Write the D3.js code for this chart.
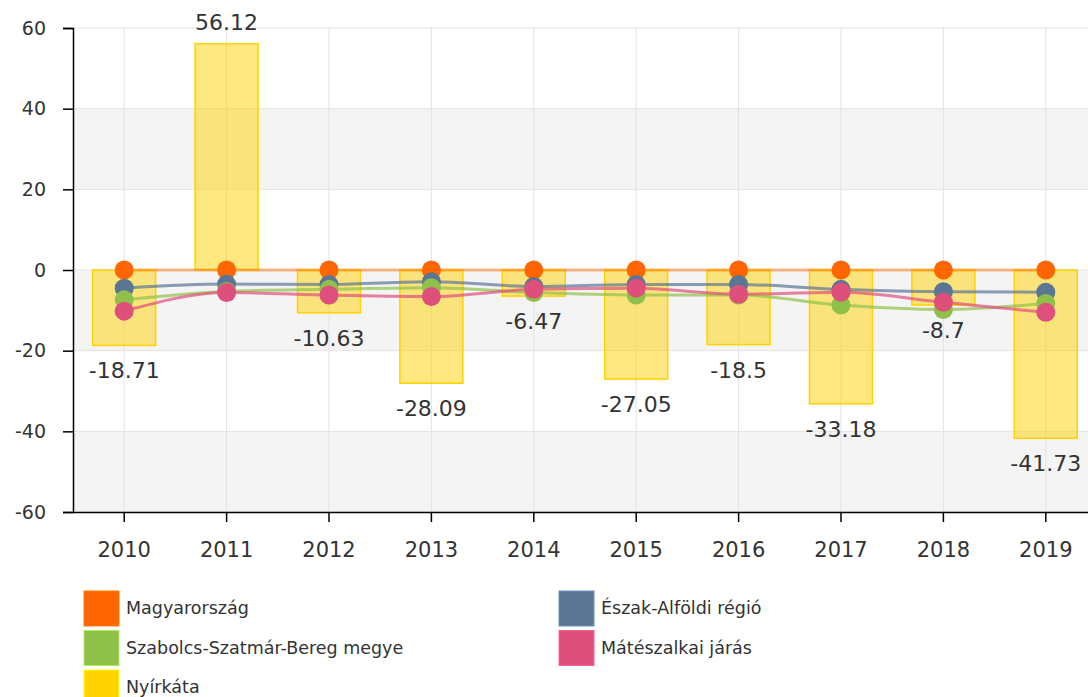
<!DOCTYPE html>
<html>
<head>
<meta charset="utf-8">
<script src="https://cdn.jsdelivr.net/npm/d3@7"></script>
<style>
  body { margin: 0; background: #fff; overflow: hidden; }
  svg { display: block; font-family: "DejaVu Sans", Verdana, sans-serif; }
</style>
</head>
<body>
<div id="chart"></div>
<script>
'use strict';

var years = ["2010","2011","2012","2013","2014","2015","2016","2017","2018","2019"];
var yTicks = [-60,-40,-20,0,20,40,60];

// Nyírkáta (bars)
var nyirkata = [-18.71, 56.12, -10.63, -28.09, -6.47, -27.05, -18.5, -33.18, -8.7, -41.73];

// line series
var magyarorszag = [0,0,0,0,0,0,0,0,0,0];
var eszakAlfoldi = [-4.5,-3.5,-3.6,-2.9,-4.1,-3.6,-3.6,-4.8,-5.4,-5.5];
var szabolcs     = [-7.4,-5.3,-4.8,-4.4,-5.6,-6.2,-6.2,-8.7,-9.8,-8.3];
var mateszalka   = [-10.2,-5.6,-6.2,-6.6,-4.8,-4.5,-6.0,-5.5,-8.0,-10.5];

var seriesNames = ["Magyarország","Észak-Alföldi régió","Szabolcs-Szatmár-Bereg megye","Mátészalkai járás","Nyírkáta"];
var seriesColors = ["#ff6600","#5b7595","#8fc04a","#df4f7b","#ffd200"];

var width = 1088, height = 697;
var svg = d3.select("#chart").append("svg")
    .attr("width", width)
    .attr("height", height);

var x = d3.scaleBand()
    .domain(years)
    .range([73, 73 + 1024]);

var y = d3.scaleLinear()
    .domain([-60, 60])
    .range([512, 28]);

// alternating bands
var bands = [[-60,-40],[-20,0],[20,40]];
svg.append("g").selectAll("rect")
  .data(bands)
  .join("rect")
    .attr("x", 73)
    .attr("width", 1024)
    .attr("y", d => y(d[1]))
    .attr("height", d => y(d[0]) - y(d[1]))
    .attr("fill", "#f4f4f4");

// grid
var grid = svg.append("g").attr("stroke", "#e3e3e3").attr("stroke-width", 1);
grid.selectAll("line.h")
  .data(yTicks)
  .join("line")
    .attr("class","h")
    .attr("x1", 73).attr("x2", 1097)
    .attr("y1", d => y(d)).attr("y2", d => y(d));
grid.selectAll("line.v")
  .data(years)
  .join("line")
    .attr("class","v")
    .attr("x1", d => x(d) + x.bandwidth()/2).attr("x2", d => x(d) + x.bandwidth()/2)
    .attr("y1", y(60)).attr("y2", y(-60));

// bars
var barW = 63;
svg.append("g").selectAll("rect")
  .data(nyirkata)
  .join("rect")
    .attr("x", (d,i) => x(years[i]) + x.bandwidth()/2 - barW/2)
    .attr("width", barW)
    .attr("y", d => y(Math.max(0, d)))
    .attr("height", d => Math.abs(y(d) - y(0)))
    .attr("fill", "#ffd200")
    .attr("fill-opacity", 0.5)
    .attr("stroke", "#ffd200")
    .attr("stroke-width", 1.5);

// bar labels
svg.append("g").selectAll("text")
  .data(nyirkata)
  .join("text")
    .attr("x", (d,i) => x(years[i]) + x.bandwidth()/2)
    .attr("y", d => d < 0 ? y(d) + 33 : y(d) - 14)
    .attr("text-anchor", "middle")
    .attr("fill", "#333")
    .style("font-size", "22px")
    .text(d => d);

// lines
var lineSeries = [magyarorszag, eszakAlfoldi, szabolcs, mateszalka];
var line = d3.line()
    .x((d,i) => x(years[i]) + x.bandwidth()/2)
    .y(d => y(d))
    .curve(d3.curveMonotoneX);

svg.append("g").selectAll("path")
  .data(lineSeries)
  .join("path")
    .attr("d", d => line(d))
    .attr("fill", "none")
    .attr("stroke", (d,i) => seriesColors[i])
    .attr("stroke-opacity", (d,i) => i === 0 ? 0.45 : 0.7)
    .attr("stroke-width", 3);

var dots = svg.append("g");
lineSeries.forEach((s, k) => {
  dots.append("g").selectAll("circle")
    .data(s)
    .join("circle")
      .attr("cx", (d,i) => x(years[i]) + x.bandwidth()/2)
      .attr("cy", d => y(d))
      .attr("r", 9.5)
      .attr("fill", seriesColors[k]);
});

// axes (plain hyphen for negatives, like the original)
var yAxis = svg.append("g")
    .attr("transform", "translate(73,0)")
    .call(d3.axisLeft(y).tickValues(yTicks).tickFormat(d => String(d)).tickSize(10).tickPadding(17));
var xAxis = svg.append("g")
    .attr("transform", "translate(0,512)")
    .call(d3.axisBottom(x).tickSize(10).tickPadding(20).tickSizeOuter(0));

[yAxis, xAxis].forEach(a => {
  a.select(".domain").attr("stroke", "#000").attr("stroke-width", 1.5);
  a.selectAll(".tick line").attr("stroke", "#000").attr("stroke-width", 1.5);
  a.selectAll(".tick text").attr("fill", "#333").style("font-family", "DejaVu Sans, Verdana, sans-serif");
});
yAxis.selectAll(".tick text").style("font-size", "19px");
xAxis.selectAll(".tick text").style("font-size", "21px");

// legend
var legendOrder = [0, 1, 2, 3, 4];
var legend = svg.append("g").selectAll("g")
  .data(legendOrder)
  .join("g")
    .attr("transform", (d,i) => "translate(" + (i % 2 === 0 ? 84 : 559) + "," + (591 + Math.floor(i/2) * 39.5) + ")");
legend.append("rect")
    .attr("width", 35).attr("height", 35)
    .attr("fill", d => seriesColors[d])
    .attr("stroke", d => d3.color(seriesColors[d]).brighter(0.6))
    .attr("stroke-width", 1);
legend.append("text")
    .attr("x", 42)
    .attr("y", 23)
    .attr("fill", "#333")
    .style("font-size", "17.5px")
    .text(d => seriesNames[d]);
</script>
</body>
</html>
